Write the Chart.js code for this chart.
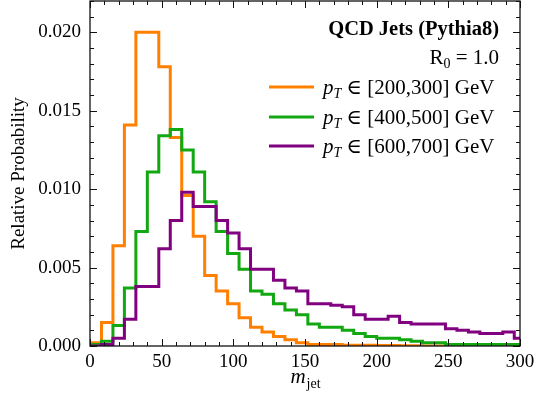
<!DOCTYPE html>
<html>
<head>
<meta charset="utf-8">
<script src="https://cdn.jsdelivr.net/npm/chart.js@4/dist/chart.umd.min.js"></script>
<style>
  html, body { margin: 0; padding: 0; background: #fff; }
  #wrap { width: 537px; height: 404px; }
</style>
</head>
<body>
<div id="wrap"><canvas id="chart" width="537" height="404"></canvas></div>
<script>
// histogram bins: 8 GeV wide, last one cut at 300
const binWidth = 8;
const xMax = 300;

const pt200 = [0.0002, 0.0015, 0.0064, 0.0141, 0.0200, 0.0200, 0.0178, 0.0133, 0.0096, 0.0070,
               0.0045, 0.0035, 0.0027, 0.0018, 0.0012, 0.0009, 0.0006, 0.0004, 0.0002, 0.0001,
               0.0001, 0.0001, 0.00005, 0.00005, 0.00005, 0.00003, 0.00003, 0.00002, 0.00002, 0,
               0, 0, 0, 0, 0, 0, 0, 0];
const pt400 = [0.0001, 0.0003, 0.0013, 0.0037, 0.0073, 0.0111, 0.0134, 0.0138, 0.0125, 0.0111,
               0.0092, 0.0073, 0.0059, 0.0049, 0.0035, 0.0033, 0.0027, 0.0023, 0.0020, 0.0014,
               0.0012, 0.0012, 0.0010, 0.0008, 0.0006, 0.0005, 0.0005, 0.0004, 0.0003, 0.0002,
               0.0002, 0.0001, 0.0001, 0.0001, 0.0001, 0.0001, 0.0001, 0.0001];
const pt600 = [0.0000, 0.0001, 0.0005, 0.0017, 0.0038, 0.0038, 0.0062, 0.0080, 0.0098, 0.0089,
               0.0089, 0.0080, 0.0072, 0.0062, 0.0049, 0.0049, 0.0042, 0.0037, 0.0035, 0.0027,
               0.0027, 0.0026, 0.0025, 0.0020, 0.0017, 0.0017, 0.0019, 0.0015, 0.0014, 0.0014,
               0.0014, 0.0011, 0.0010, 0.0009, 0.0008, 0.0008, 0.0009, 0.0005];

const seriesLabels = ['[200,300] GeV', '[400,500] GeV', '[600,700] GeV'];
const seriesColors = ['#ff8000', '#12a812', '#800080'];

const xTicks = [0, 50, 100, 150, 200, 250, 300];
const yTicks = [0, 0.005, 0.010, 0.015, 0.020];

const SERIF = '"Liberation Serif", "DejaVu Serif", serif';

function toSteps(vals) {
    const pts = vals.map((v, i) => ({ x: i * binWidth, y: v }));
    pts.push({ x: xMax, y: vals[vals.length - 1] });
    return pts;
}

// frame, inward ticks, axis titles and the in-plot legend
const decorations = {
    id: 'decorations',
    afterDraw(chart) {
        const ctx = chart.ctx;
        const a = chart.chartArea;
        const xs = chart.scales.x, ys = chart.scales.y;
        ctx.save();
        ctx.strokeStyle = '#111';
        ctx.lineWidth = 1.3;
        ctx.strokeRect(a.left, a.top, a.right - a.left, a.bottom - a.top);

        ctx.lineWidth = 1;
        ctx.beginPath();
        for (let v = 0; v <= xMax; v += 10) {
            const px = Math.round(xs.getPixelForValue(v)) + 0.5;
            const len = v % 50 === 0 ? 7 : 4;
            ctx.moveTo(px, a.bottom); ctx.lineTo(px, a.bottom - len);
            ctx.moveTo(px, a.top); ctx.lineTo(px, a.top + len);
        }
        for (let k = 0; k <= 22; k++) {
            const py = Math.round(ys.getPixelForValue(k * 0.001)) + 0.5;
            const len = k % 5 === 0 ? 7 : 4;
            ctx.moveTo(a.left, py); ctx.lineTo(a.left + len, py);
            ctx.moveTo(a.right, py); ctx.lineTo(a.right - len, py);
        }
        ctx.stroke();

        ctx.fillStyle = '#000';
        // y title
        ctx.save();
        ctx.translate(19, (a.top + a.bottom) / 2);
        ctx.rotate(-Math.PI / 2);
        ctx.font = '19px ' + SERIF;
        ctx.textAlign = 'center';
        ctx.textBaseline = 'middle';
        ctx.fillText('Relative Probability', 0, 0);
        ctx.restore();

        // x title: m_jet
        ctx.textBaseline = 'alphabetic';
        ctx.textAlign = 'left';
        ctx.font = 'italic 21px ' + SERIF;
        const mW = ctx.measureText('m').width;
        ctx.font = '14px ' + SERIF;
        const jW = ctx.measureText('jet').width;
        const cx = (a.left + a.right) / 2;
        const x0 = cx - (mW + jW) / 2;
        ctx.font = 'italic 21px ' + SERIF;
        ctx.fillText('m', x0, 383);
        ctx.font = '14px ' + SERIF;
        ctx.fillText('jet', x0 + mW + 1, 388);

        // legend block
        const right = 499;
        ctx.textAlign = 'right';
        ctx.font = 'bold 20.5px ' + SERIF;
        ctx.fillText('QCD Jets (Pythia8)', right, 35);

        ctx.font = '21px ' + SERIF;
        const rest = ' = 1.0';
        const restW = ctx.measureText(rest).width;
        ctx.fillText(rest, right, 64);
        ctx.font = '14px ' + SERIF;
        const zW = ctx.measureText('0').width;
        ctx.fillText('0', right - restW, 68);
        ctx.font = '21px ' + SERIF;
        ctx.fillText('R', right - restW - zW, 64);

        ctx.textAlign = 'left';
        const lineYs = [87, 117, 146];
        seriesLabels.forEach((lab, i) => {
            const y = lineYs[i];
            ctx.strokeStyle = seriesColors[i];
            ctx.lineWidth = 3;
            ctx.beginPath();
            ctx.moveTo(269, y); ctx.lineTo(314, y);
            ctx.stroke();
            let x = 323;
            ctx.font = 'italic 21px ' + SERIF;
            ctx.fillText('p', x, y + 7);
            x += ctx.measureText('p').width;
            ctx.font = 'italic 14px ' + SERIF;
            ctx.fillText('T', x, y + 11);
            x += ctx.measureText('T').width;
            ctx.font = '21px ' + SERIF;
            ctx.fillText(' \u2208 ' + lab, x, y + 7);
        });
        ctx.restore();
    }
};

const datasets = [pt200, pt400, pt600].map((vals, i) => ({
    label: seriesLabels[i],
    data: toSteps(vals),
    borderColor: seriesColors[i],
    borderWidth: 3,
    pointRadius: 0,
    fill: false,
    stepped: 'before',
    order: 3 - i
}));

new Chart(document.getElementById('chart'), {
    type: 'line',
    data: { datasets },
    options: {
        responsive: false,
        animation: false,
        layout: { padding: { top: 1, right: 17, left: 0, bottom: 0 } },
        plugins: { legend: { display: false }, tooltip: { enabled: false } },
        scales: {
            x: {
                type: 'linear',
                min: 0,
                max: xMax,
                afterBuildTicks: s => { s.ticks = xTicks.map(v => ({ value: v })); },
                afterFit: s => { s.height = 58; s.paddingLeft = 0; s.paddingRight = 0; },
                grid: { display: false, drawTicks: false },
                border: { display: false },
                ticks: {
                    padding: 5,
                    maxRotation: 0,
                    color: '#000',
                    font: { family: SERIF, size: 19 }
                }
            },
            y: {
                min: 0,
                max: 0.022,
                afterBuildTicks: s => { s.ticks = yTicks.map(v => ({ value: v })); },
                afterFit: s => { s.width = 90; s.paddingTop = 0; s.paddingBottom = 0; },
                grid: { display: false, drawTicks: false },
                border: { display: false },
                ticks: {
                    padding: 9,
                    color: '#000',
                    font: { family: SERIF, size: 19 },
                    callback: v => v.toFixed(3)
                }
            }
        }
    },
    plugins: [decorations]
});
</script>
</body>
</html>
